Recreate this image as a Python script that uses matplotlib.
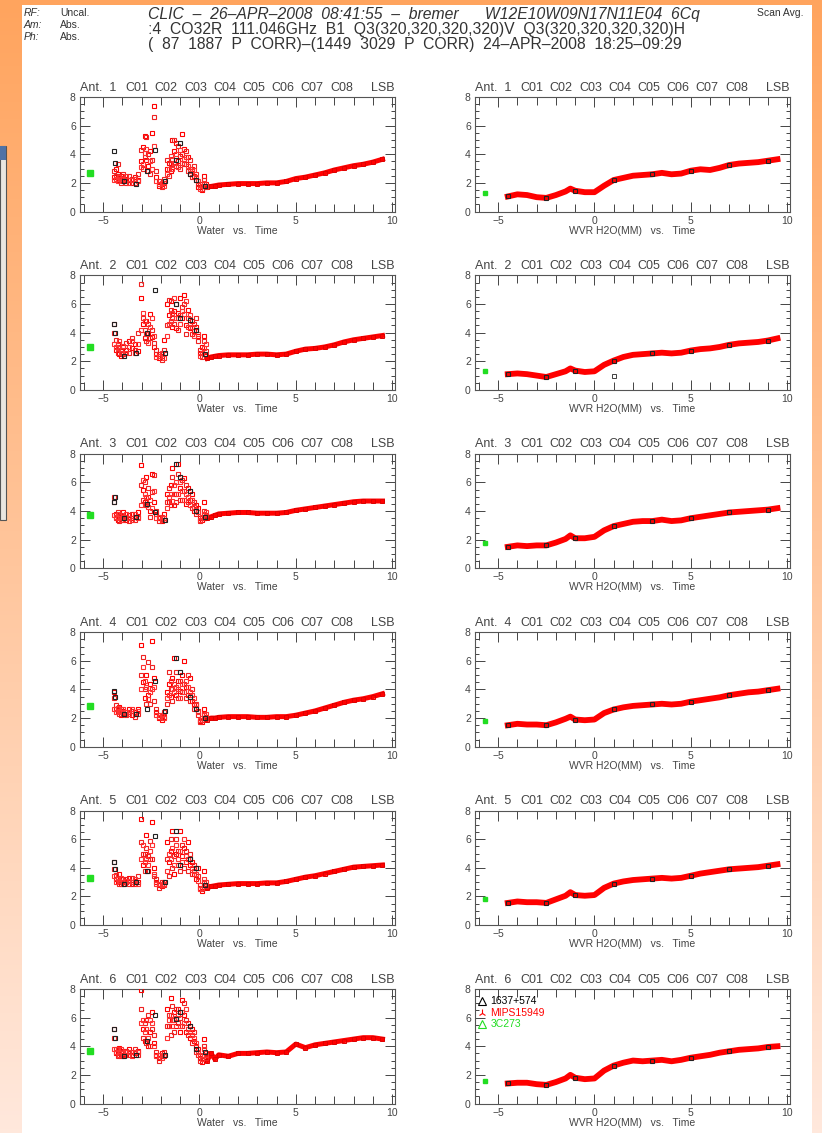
import numpy as np
import matplotlib
matplotlib.use("Agg")
from matplotlib import pyplot as plt
from matplotlib.patches import Rectangle

plt.rcParams['font.family'] = ['Liberation Sans', 'DejaVu Sans']

# ---- data ----
antennas = [1, 2, 3, 4, 5, 6]
codes = ['C01', 'C02', 'C03', 'C04', 'C05', 'C06', 'C07', 'C08']

# noisy part of the "Water" panels (hours)
t_noisy = [-4.45, -4.35, -4.25, -4.15, -4.05, -3.95, -3.8, -3.65, -3.5, -3.35,
           -3.2, -3.05, -2.95, -2.85, -2.75, -2.65, -2.55, -2.45, -2.35, -2.25,
           -2.1, -1.95, -1.85, -1.7, -1.6, -1.5, -1.4, -1.3, -1.2, -1.1,
           -1.0, -0.9, -0.8, -0.7, -0.6, -0.5, -0.4, -0.3, -0.2, -0.1,
           0.05, 0.15, 0.25, 0.35]
water_a = [
    [2.4, 3.0, 2.6, 2.2, 2.5, 2.1, 2.3, 2.2, 2.0, 2.4, 2.2, 3.5, 4.5, 5.3, 3.6, 3.2, 4.2, 5.5, 7.4, 2.4,
     1.8, 1.9, 2.0, 3.0, 3.4, 2.8, 5.0, 4.2, 4.8, 3.5, 3.9, 5.4, 4.4, 3.3, 3.8, 2.6, 3.0, 2.5, 2.2, 1.7,
     1.7, 1.5, 2.5, 1.9],
    [4.6, 2.8, 3.2, 2.5, 2.4, 3.0, 2.8, 3.4, 2.9, 3.2, 2.7, 6.4, 4.6, 3.6, 4.8, 4.0, 5.3, 3.7, 3.0, 2.5,
     2.2, 2.4, 3.5, 6.0, 5.2, 6.2, 4.4, 5.5, 4.3, 5.4, 6.4, 5.0, 6.6, 4.5, 5.6, 4.3, 4.8, 4.1, 4.4, 3.8,
     2.6, 3.0, 3.8, 2.4],
    [4.6, 3.8, 3.4, 3.6, 3.5, 3.9, 3.4, 3.7, 3.5, 3.6, 3.9, 7.2, 5.5, 4.6, 6.4, 5.0, 4.0, 6.6, 4.6, 3.8,
     3.5, 3.3, 3.8, 5.2, 4.6, 5.8, 7.0, 4.4, 5.2, 7.3, 5.6, 4.8, 6.3, 4.5, 5.6, 4.8, 5.2, 4.0, 4.4, 4.2,
     3.5, 3.4, 4.6, 3.6],
    [3.8, 2.6, 2.4, 2.8, 2.2, 2.5, 2.3, 2.6, 2.2, 2.4, 2.6, 7.1, 4.5, 3.4, 5.0, 3.6, 4.4, 7.4, 4.8, 2.4,
     2.0, 1.9, 2.1, 3.8, 4.4, 3.5, 4.8, 6.2, 3.6, 4.6, 3.9, 5.0, 6.0, 4.2, 3.6, 4.8, 3.2, 3.0, 2.7, 2.5,
     1.8, 1.7, 2.6, 2.1],
    [4.4, 3.2, 3.0, 3.6, 2.9, 3.2, 3.0, 3.3, 2.9, 3.1, 3.0, 7.4, 4.2, 5.0, 6.3, 3.8, 4.6, 7.2, 4.0, 3.0,
     2.8, 2.7, 3.0, 5.8, 4.4, 5.2, 6.6, 3.6, 5.0, 4.2, 6.6, 4.8, 5.4, 4.4, 5.8, 4.2, 4.4, 3.6, 3.2, 4.0,
     2.6, 2.4, 3.8, 2.8],
    [5.2, 3.5, 3.6, 3.9, 3.3, 3.7, 3.4, 3.8, 3.4, 3.5, 3.7, 7.9, 5.2, 4.4, 5.8, 4.0, 5.0, 6.4, 4.2, 3.4,
     3.2, 3.5, 3.3, 6.6, 5.4, 7.4, 5.8, 6.4, 5.4, 6.6, 5.0, 7.2, 6.2, 5.0, 5.6, 4.6, 5.2, 4.4, 4.0, 3.8,
     3.2, 2.9, 4.5, 3.5],
]
water_b = [
    [2.8, 2.5, 3.3, 2.5, 2.0, 2.6, 2.0, 2.5, 2.3, 2.0, 2.6, 4.3, 3.0, 3.8, 5.2, 4.0, 2.6, 3.6, 6.6, 2.8,
     2.1, 1.7, 2.3, 3.6, 2.5, 3.3, 3.7, 5.0, 3.2, 4.6, 3.0, 4.0, 3.3, 4.2, 2.8, 3.6, 2.4, 3.2, 2.6, 1.9,
     1.9, 1.6, 2.2, 1.7],
    [4.0, 3.5, 2.6, 3.0, 2.8, 2.5, 3.3, 2.6, 3.6, 2.8, 4.0, 7.4, 5.0, 4.2, 3.4, 4.6, 3.6, 4.2, 3.3, 2.8,
     2.5, 2.1, 2.8, 4.5, 6.3, 5.6, 5.0, 4.6, 6.0, 4.2, 5.2, 5.8, 6.0, 3.9, 5.0, 4.6, 3.9, 4.6, 5.0, 3.4,
     2.8, 2.3, 3.4, 2.7],
    [5.0, 3.5, 3.9, 3.3, 3.7, 3.4, 3.6, 3.3, 3.8, 3.4, 3.6, 5.8, 4.8, 6.0, 4.4, 5.6, 3.6, 5.3, 6.5, 4.0,
     3.3, 3.6, 3.4, 4.6, 5.6, 4.4, 6.4, 5.2, 4.6, 6.6, 4.8, 6.2, 5.4, 5.8, 4.6, 5.4, 4.2, 4.6, 3.8, 3.9,
     3.3, 3.5, 4.0, 3.7],
    [3.4, 2.9, 2.5, 2.3, 2.6, 2.3, 2.2, 2.4, 2.5, 2.1, 2.3, 5.0, 6.3, 4.0, 3.0, 5.9, 3.0, 5.6, 3.2, 2.6,
     2.2, 2.0, 2.4, 3.0, 5.2, 4.0, 3.2, 4.4, 5.2, 3.4, 4.6, 3.8, 4.4, 3.4, 5.0, 3.2, 4.0, 2.6, 3.0, 2.2,
     1.7, 1.9, 2.3, 2.0],
    [3.9, 3.5, 3.3, 2.9, 3.2, 3.0, 3.2, 2.9, 3.3, 2.9, 3.4, 5.8, 5.0, 3.8, 5.4, 4.8, 5.9, 4.6, 3.4, 3.2,
     2.6, 3.0, 2.8, 4.6, 3.4, 6.0, 4.0, 4.8, 6.0, 5.2, 3.8, 5.6, 4.0, 5.2, 3.8, 5.0, 3.6, 4.2, 4.0, 3.4,
     2.8, 2.5, 3.0, 2.7],
    [4.6, 3.8, 3.3, 3.5, 3.6, 3.3, 3.7, 3.4, 3.6, 3.8, 3.4, 6.6, 4.6, 5.6, 4.2, 6.2, 4.0, 5.2, 4.8, 3.6,
     3.0, 3.3, 3.6, 5.4, 6.2, 4.8, 6.8, 5.0, 6.6, 5.6, 6.0, 5.4, 7.0, 5.8, 4.8, 5.4, 4.2, 5.0, 3.6, 3.4,
     3.0, 3.3, 4.0, 3.2],
]
# a third, denser layer near the baseline of each Water panel
water_c = [
    [2.2, 2.3, 2.1, 2.4, 2.3, 2.3, 2.5, 2.0, 2.2, 2.3, 2.1, 3.1, 3.3, 4.1, 4.4, 2.8, 3.5, 3.0, 4.6, 2.1,
     1.9, 2.0, 1.8, 2.6, 3.0, 3.9, 3.0, 3.4, 4.0, 3.1, 4.3, 3.4, 3.7, 3.8, 3.2, 3.0, 2.8, 2.9, 2.4, 2.1,
     1.6, 1.8, 2.0, 1.8],
    [3.2, 3.0, 2.9, 3.4, 2.6, 3.1, 2.6, 3.0, 3.4, 2.6, 3.2, 4.2, 5.4, 4.8, 3.9, 3.3, 4.4, 5.0, 3.8, 2.3,
     2.4, 2.6, 2.2, 3.8, 4.6, 4.8, 5.4, 6.4, 5.0, 5.0, 4.6, 5.5, 5.3, 6.2, 4.4, 5.2, 4.4, 3.8, 4.2, 3.9,
     2.4, 2.6, 2.9, 3.2],
    [3.7, 3.6, 3.5, 3.8, 3.4, 3.6, 3.8, 3.5, 3.4, 3.8, 3.5, 4.4, 6.2, 5.2, 5.0, 4.3, 4.8, 4.2, 5.4, 3.5,
     3.6, 3.4, 3.5, 4.2, 5.0, 5.2, 4.7, 5.8, 6.0, 5.2, 6.0, 5.4, 4.8, 5.2, 5.0, 4.4, 4.8, 4.3, 4.1, 3.9,
     3.4, 3.6, 3.8, 3.9],
    [2.6, 2.4, 2.7, 2.5, 2.4, 2.6, 2.4, 2.3, 2.6, 2.3, 2.5, 4.0, 5.6, 4.6, 4.2, 3.3, 3.8, 4.0, 4.2, 2.2,
     2.1, 2.2, 2.0, 3.4, 3.6, 4.6, 4.0, 3.8, 4.2, 4.0, 3.4, 4.4, 3.8, 4.6, 4.2, 3.8, 3.6, 3.4, 2.9, 2.4,
     1.9, 2.0, 2.2, 2.3],
    [3.4, 3.0, 3.2, 3.1, 3.3, 2.9, 3.1, 3.1, 3.0, 3.2, 2.9, 4.6, 5.6, 4.4, 4.6, 4.2, 5.2, 5.6, 3.6, 2.9,
     2.9, 2.8, 2.9, 3.8, 5.0, 4.6, 5.4, 4.2, 5.6, 4.6, 5.2, 4.4, 6.0, 4.8, 4.6, 4.6, 4.0, 3.8, 3.6, 3.1,
     2.5, 2.6, 3.2, 3.0],
    [3.8, 3.6, 3.8, 3.4, 3.8, 3.5, 3.6, 3.6, 3.3, 3.6, 3.6, 5.6, 5.8, 5.0, 5.2, 4.6, 5.8, 5.6, 4.0, 3.3,
     3.4, 3.2, 3.4, 4.6, 5.8, 6.2, 5.4, 5.8, 6.0, 6.2, 5.4, 6.4, 5.6, 6.6, 5.2, 5.0, 4.8, 4.6, 4.2, 3.6,
     3.4, 3.1, 3.8, 3.4],
]

# black (1637+574) points on the Water panels
t_black = [-4.45, -4.4, -3.9, -3.3, -2.7, -2.3, -1.8, -1.2, -1.0, -0.5, -0.2, 0.3]
water_black = [
    [4.2, 3.4, 2.1, 1.9, 2.8, 4.3, 2.1, 3.6, 4.8, 2.6, 2.2, 1.8],
    [4.6, 4.0, 2.4, 2.6, 4.0, 7.0, 2.6, 6.0, 5.0, 4.9, 4.2, 2.5],
    [4.6, 5.0, 3.5, 3.6, 4.5, 3.9, 3.4, 7.3, 6.4, 5.4, 4.0, 3.6],
    [3.9, 3.5, 2.3, 2.3, 2.6, 4.6, 2.5, 6.2, 5.2, 3.5, 2.6, 2.0],
    [4.4, 3.9, 2.9, 3.0, 3.8, 6.2, 3.0, 6.6, 4.2, 4.6, 4.0, 2.8],
    [5.2, 4.6, 3.3, 3.4, 4.4, 6.2, 3.4, 5.9, 6.4, 5.4, 3.8, 3.6],
]

# smooth part of the Water panels
t_smooth = [0.4, 0.6, 0.8, 1.0, 1.5, 2.0, 2.5, 3.0, 3.5, 4.0, 4.5, 5.0, 5.5,
            6.0, 6.5, 7.0, 7.5, 8.0, 8.5, 9.0, 9.5]
water_smooth = [
    [1.7, 1.75, 1.8, 1.85, 1.9, 1.95, 1.95, 1.95, 2.0, 2.0, 2.1, 2.3, 2.4, 2.55, 2.7, 2.9, 3.05, 3.2, 3.3, 3.45, 3.65],
    [2.2, 2.3, 2.35, 2.4, 2.45, 2.45, 2.45, 2.5, 2.5, 2.45, 2.5, 2.7, 2.85, 2.9, 3.0, 3.15, 3.35, 3.5, 3.6, 3.7, 3.8],
    [3.5, 3.6, 3.7, 3.8, 3.85, 3.9, 3.9, 3.85, 3.85, 3.85, 3.9, 4.05, 4.15, 4.25, 4.35, 4.45, 4.55, 4.65, 4.7, 4.7, 4.7],
    [1.9, 2.0, 2.0, 2.05, 2.1, 2.1, 2.1, 2.05, 2.05, 2.1, 2.1, 2.2, 2.35, 2.5, 2.7, 2.9, 3.1, 3.25, 3.35, 3.5, 3.7],
    [2.6, 2.7, 2.75, 2.8, 2.85, 2.9, 2.9, 2.9, 2.95, 2.95, 3.05, 3.2, 3.35, 3.45, 3.6, 3.75, 3.9, 4.05, 4.1, 4.15, 4.2],
    [3.0, 3.5, 3.1, 3.4, 3.3, 3.5, 3.5, 3.55, 3.6, 3.55, 3.6, 4.15, 3.9, 4.1, 4.2, 4.3, 4.4, 4.5, 4.6, 4.6, 4.5],
]
water_green = [2.7, 3.0, 3.75, 2.85, 3.3, 3.65]

# WVR H2O panels
t_wvr = [-4.5, -4.0, -3.5, -3.0, -2.5, -2.0, -1.5, -1.25, -1.0, -0.5, 0.0, 0.5, 1.0, 1.5, 2.0,
         2.5, 3.0, 3.5, 4.0, 4.5, 5.0, 5.5, 6.0, 6.5, 7.0, 7.5, 8.0, 8.5, 9.0, 9.5]
wvr = [
    [1.05, 1.2, 1.15, 1.0, 0.95, 1.15, 1.4, 1.6, 1.45, 1.35, 1.35, 1.8, 2.2, 2.35, 2.5,
     2.55, 2.6, 2.7, 2.6, 2.65, 2.85, 2.95, 2.9, 3.05, 3.25, 3.35, 3.4, 3.45, 3.55, 3.65],
    [1.1, 1.15, 1.1, 1.0, 0.9, 1.1, 1.3, 1.5, 1.35, 1.25, 1.3, 1.75, 2.05, 2.3, 2.45,
     2.5, 2.55, 2.6, 2.55, 2.6, 2.75, 2.85, 2.9, 3.0, 3.15, 3.25, 3.3, 3.35, 3.45, 3.6],
    [1.5, 1.6, 1.55, 1.6, 1.6, 1.8, 2.05, 2.3, 2.1, 2.1, 2.2, 2.65, 2.95, 3.1, 3.25,
     3.3, 3.3, 3.4, 3.3, 3.35, 3.5, 3.6, 3.7, 3.8, 3.9, 3.95, 4.0, 4.05, 4.1, 4.2],
    [1.5, 1.6, 1.55, 1.55, 1.5, 1.7, 1.95, 2.1, 1.9, 1.85, 1.9, 2.35, 2.6, 2.75, 2.85,
     2.9, 2.95, 3.0, 2.95, 3.0, 3.15, 3.25, 3.35, 3.45, 3.6, 3.7, 3.8, 3.85, 3.95, 4.05],
    [1.55, 1.65, 1.6, 1.6, 1.55, 1.8, 2.05, 2.3, 2.1, 2.05, 2.1, 2.6, 2.9, 3.05, 3.15,
     3.2, 3.25, 3.3, 3.25, 3.3, 3.45, 3.6, 3.7, 3.8, 3.9, 3.95, 4.0, 4.05, 4.15, 4.25],
    [1.4, 1.45, 1.45, 1.35, 1.3, 1.5, 1.75, 2.0, 1.8, 1.7, 1.75, 2.3, 2.65, 2.85, 3.0,
     2.95, 3.0, 3.05, 2.95, 3.05, 3.2, 3.3, 3.4, 3.55, 3.65, 3.75, 3.8, 3.85, 3.95, 4.0],
]
wvr_green = [1.3, 1.3, 1.75, 1.8, 1.8, 1.55]
t_green = -5.7

sources = ['1637+574', 'MIPS15949', '3C273']
src_colors = ['black', 'red', '#22dd22']
src_markers = ['^', '2', '^']

header_left = [('RF:', 'Uncal.'), ('Am:', 'Abs.'), ('Ph:', 'Abs.')]
header_mid = ['CLIC  \u2013  26\u2013APR\u20132008  08:41:55  \u2013  bremer      W12E10W09N17N11E04  6Cq',
              '\u02d04  CO32R  111.046GHz  B1  Q3(320,320,320,320)V  Q3(320,320,320,320)H',
              '(  87  1887  P  CORR)\u2013(1449  3029  P  CORR)  24\u2013APR\u20132008  18:25\u201309:29']

# ---- figure ----
W, H = 822, 1133
fig = plt.figure(figsize=(W / 100, H / 100), dpi=100)

# orange slide background
bg = fig.add_axes([0, 0, 1, 1])
top = np.array([255, 164, 94]) / 255
bot = np.array([255, 232, 220]) / 255
frac = np.linspace(0, 1, 256)[:, None]
grad = top[None, :] * (1 - frac) + bot[None, :] * frac
bg.imshow(grad[:, None, :], aspect='auto', extent=[0, 1, 0, 1])
bg.set_xlim(0, 1)
bg.set_ylim(0, 1)
bg.axis('off')
bg.add_patch(Rectangle((22 / W, 0), 790 / W, 1 - 5 / H, facecolor='white', edgecolor='none'))
# bit of a window on the left edge
bg.add_patch(Rectangle((0, 1 - 520 / H), 6 / W, 374 / H, facecolor='#e9e6e0', edgecolor='#555555', lw=0.8))
bg.add_patch(Rectangle((0, 1 - 160 / H), 6 / W, 14 / H, facecolor='#4f72a6', edgecolor='none'))

txtc = '#333333'
for i, (k, v) in enumerate(header_left):
    fig.text(24 / W, 1 - (13 + 12 * i) / H, k, fontsize=7.5, style='italic', color=txtc, va='center')
    fig.text(60 / W, 1 - (13 + 12 * i) / H, v, fontsize=7.5, color=txtc, va='center')
for i, line in enumerate(header_mid):
    fig.text(148 / W, 1 - (14 + 15.5 * i) / H, line, fontsize=11.3, color=txtc, va='center',
             style='italic' if i == 0 else 'normal')
fig.text(757 / W, 1 - 13 / H, 'Scan Avg.', fontsize=7.5, color=txtc, va='center')

ax_h = 114.5
for r, ant in enumerate(antennas):
    y_top = 97 + r * 178.4
    for c in range(2):
        x0 = 80 if c == 0 else 475
        ax = fig.add_axes([x0 / W, 1 - (y_top + ax_h) / H, 315 / W, ax_h / H])
        ax.set_xlim(-6.2, 10.15)
        ax.set_ylim(0, 8)
        ax.set_xticks([-5, 0, 5, 10])
        ax.set_xticks(np.arange(-6, 11, 1), minor=True)
        ax.set_yticks([0, 2, 4, 6, 8])
        ax.set_yticks(np.arange(0, 8.1, 0.5), minor=True)
        ax.tick_params(which='both', direction='in', top=True, right=True, colors='#444444',
                       labelsize=7.5, width=0.7, pad=3)
        ax.tick_params(which='major', length=7)
        ax.tick_params(which='minor', length=3)
        ax.tick_params(axis='x', which='minor', length=6)
        for s in ax.spines.values():
            s.set_color('#555555')
            s.set_linewidth(0.8)

        if c == 0:
            ax.plot(t_smooth, water_smooth[r], color='red', lw=3.6, zorder=2)
            ax.plot(t_smooth, water_smooth[r], 's', ms=3.5, mfc='none', mec='#dd0000', mew=0.7, zorder=3)
            ax.plot(t_noisy, water_a[r], 's', ms=3.3, mfc='none', mec='red', mew=0.8, zorder=3)
            ax.plot(t_noisy, water_b[r], 's', ms=3.3, mfc='none', mec='#ee2222', mew=0.8, zorder=3)
            ax.plot(t_noisy, water_c[r], 's', ms=3.3, mfc='none', mec='#ff3030', mew=0.8, zorder=3)
            ax.plot(t_black, water_black[r], 's', ms=2.8, mfc='none', mec='#222222', mew=0.8, zorder=4)
            ax.plot([t_green], [water_green[r]], 's', ms=4, color='#22dd22', zorder=4)
            ax.set_xlabel('Water   vs.   Time', fontsize=7.5, color='#444444', labelpad=0)
        else:
            ax.plot(t_wvr, wvr[r], color='red', lw=4.2, zorder=2)
            ax.plot(t_wvr[::4], wvr[r][::4], 's', ms=2.5, mfc='none', mec='#222222', mew=0.8, zorder=3)
            ax.plot([t_green], [wvr_green[r]], 's', ms=3.5, color='#22dd22', zorder=4)
            if ant == 2:
                ax.plot([1.0], [1.0], 's', ms=2.5, mfc='none', mec='#222222', mew=0.6)
            ax.set_xlabel('WVR H2O(MM)   vs.   Time', fontsize=7.5, color='#444444', labelpad=0)

        ax.text(0.0, 1.03, 'Ant.  %d' % ant, transform=ax.transAxes, fontsize=9,
                color='#444444', ha='left', va='bottom')
        for j, code in enumerate(codes):
            ax.text(0.181 + j * 0.0927, 1.03, code, transform=ax.transAxes, fontsize=9,
                    color='#444444', ha='center', va='bottom')
        ax.text(1.0, 1.03, 'LSB', transform=ax.transAxes, fontsize=9,
                color='#444444', ha='right', va='bottom')

        if c == 1 and ant == 6:
            for k, (name, col, mk) in enumerate(zip(sources, src_colors, src_markers)):
                yy = 7.15 - 0.8 * k
                ax.plot([-5.85], [yy], marker=mk, ms=6, mfc='none', mec=col, mew=0.8, ls='none')
                ax.text(-5.4, yy, name, fontsize=7.5, color=col, va='center')

fig.savefig('out.png', dpi=100)
